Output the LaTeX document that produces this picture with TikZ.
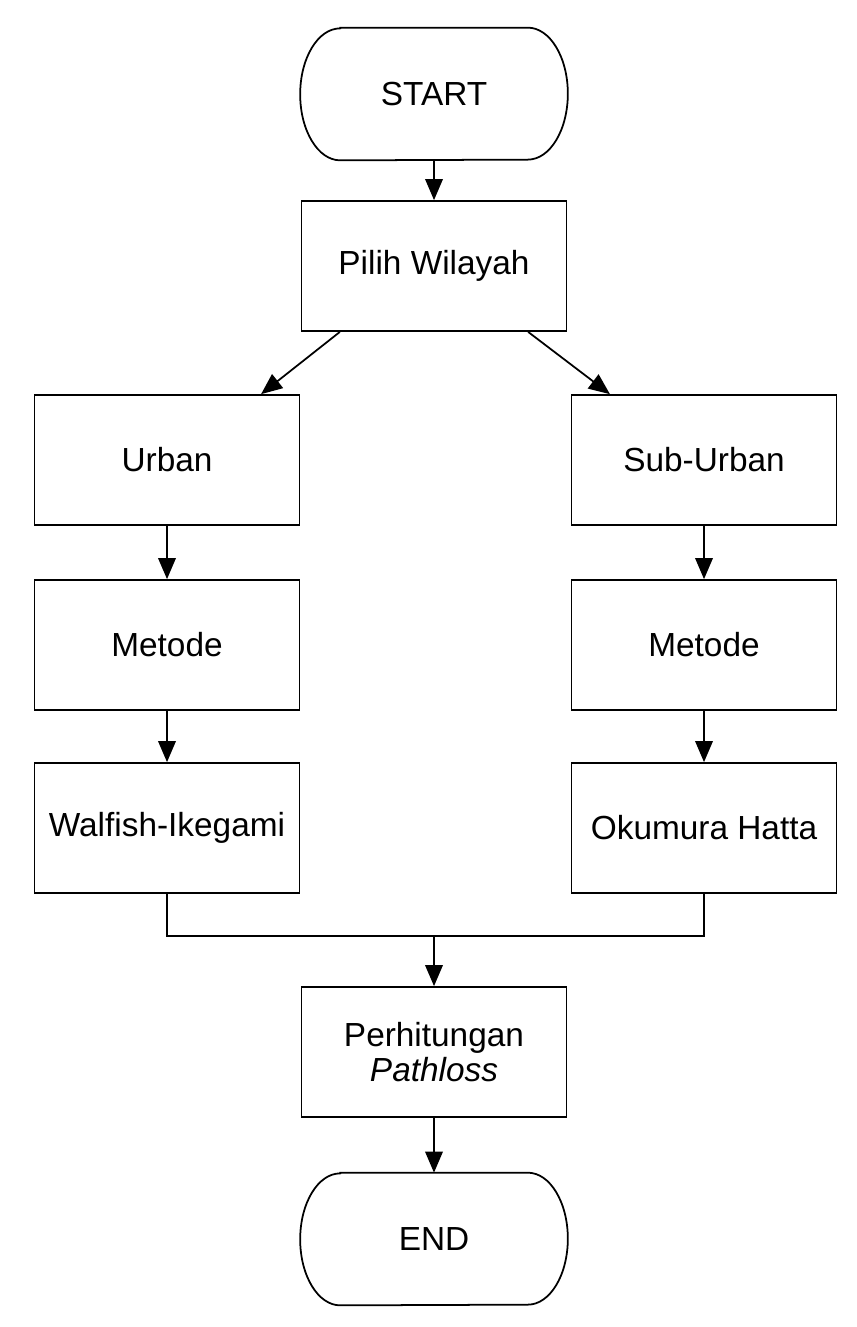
\documentclass[tikz,border=0pt]{standalone}
\usepackage{fontspec}
\setmainfont{Liberation Sans}
\usetikzlibrary{arrows.meta}

\tikzset{
  box/.style={draw, line width=1pt, minimum width=5.3cm, minimum height=2.6cm,
    inner sep=0pt, align=center, font=\fontsize{19}{20}\selectfont},
  term/.style={minimum width=5.34cm, minimum height=2.64cm, inner sep=0pt,
    font=\fontsize{19}{20}\selectfont},
  flow/.style={line width=1pt, -{Triangle[length=12pt,width=10pt]}}
}

\begin{document}
\begin{tikzpicture}[x=0.02cm,y=-0.02cm]
      \useasboundingbox (0,0) rectangle (857,1327);
      % terminals
      \node[term] (start) at (434,94) {START};
      \node[term] (end) at (434,1239) {END};
      \foreach \t in {start,end}
        \draw[line width=1pt] ([xshift=0.8cm]\t.north west) -- ([xshift=-0.8cm]\t.north east)
          arc[start angle=90,end angle=-90,x radius=0.8cm,y radius=1.32cm]
          -- ([xshift=0.8cm]\t.south west)
          arc[start angle=270,end angle=90,x radius=0.8cm,y radius=1.32cm] -- cycle;
      % boxes
      \node[box] (pilih) at (434,266) {Pilih Wilayah};
      \node[box] (urban) at (167,460) {Urban};
      \node[box] (suburban) at (704,460) {Sub-Urban};
      \node[box] (metodeu) at (167,645) {Metode};
      \node[box] (metodes) at (704,645) {Metode};
      \node[box] (walfish) at (167,828) {Walfish-Ikegami};
      \node[box] (okumura) at (704,828) {Okumura Hatta};
      \node[box] (hitung) at (434,1052) {Perhitungan\\\textit{Pathloss}};
      \coordinate (join) at (434,936);
      % arrows
      \draw[flow] (start.south) -- (pilih.north);
      \draw[flow] (pilih.215) -- (urban.35);
      \draw[flow] (pilih.-35) -- (suburban.145);
      \draw[flow] (urban.south) -- (metodeu.north);
      \draw[flow] (suburban.south) -- (metodes.north);
      \draw[flow] (metodeu.south) -- (walfish.north);
      \draw[flow] (metodes.south) -- (okumura.north);
      \draw[line width=1pt] (walfish.south) |- (join) -| (okumura.south);
      \draw[flow] (join) -- (hitung.north);
      \draw[flow] (hitung.south) -- (end.north);
\end{tikzpicture}
\end{document}
